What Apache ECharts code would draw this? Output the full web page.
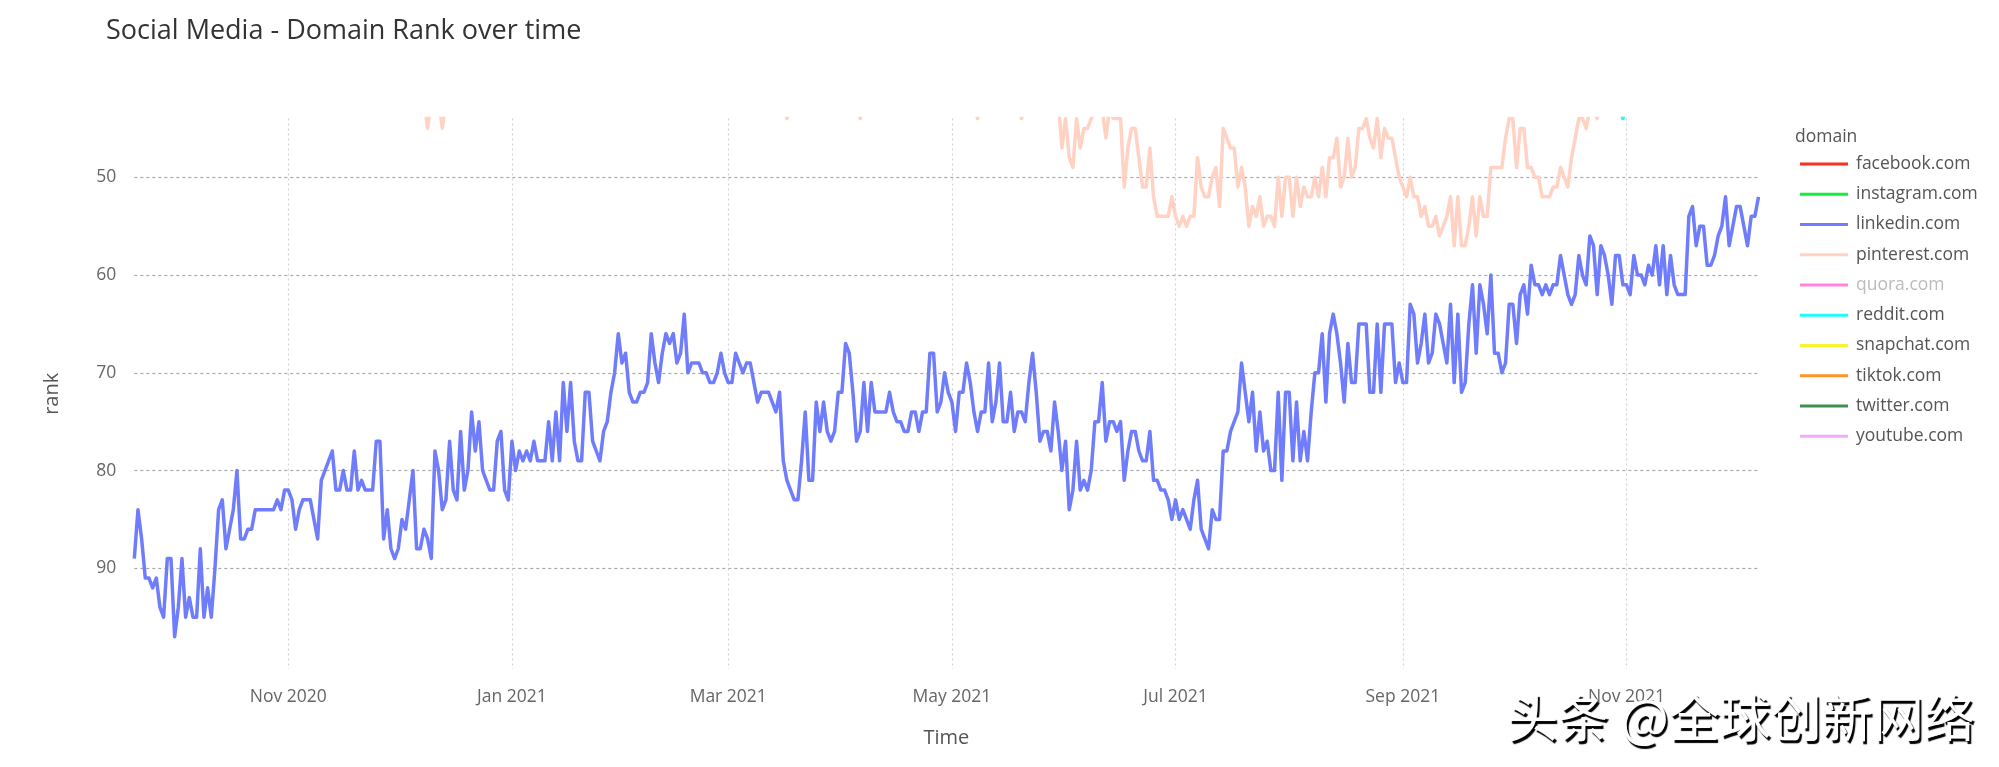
<!DOCTYPE html>
<html>
<head>
<meta charset="utf-8">
<style>
  html, body { margin: 0; padding: 0; background: #fff; }
  #main-chart { width: 1999px; height: 767px; }
</style>
<script src="https://cdn.jsdelivr.net/npm/echarts@6/dist/echarts.min.js"></script>
</head>
<body>
<div id="main-chart"></div>
<script>
const FONT = '"Open Sans", sans-serif'
const START_DATE = [2020, 8, 20]

const xTickDates = [[2020, 10, 1], [2021, 0, 1], [2021, 2, 1], [2021, 4, 1], [2021, 6, 1], [2021, 8, 1], [2021, 10, 1]]
const xTickLabels = ['Nov 2020', 'Jan 2021', 'Mar 2021', 'May 2021', 'Jul 2021', 'Sep 2021', 'Nov 2021']
const yTicks = [50, 60, 70, 80, 90]

const domains = ['facebook.com', 'instagram.com', 'linkedin.com', 'pinterest.com', 'quora.com',
  'reddit.com', 'snapchat.com', 'tiktok.com', 'twitter.com', 'youtube.com']
const domainColors = ['#ff2d1e', '#12f03e', '#6f7dfc', '#ffd2c4', '#ff85e2',
  '#1ffcff', '#f7f52f', '#ff9326', '#3f9150', '#f2aaff']

// daily rank, one row per 20 days
const linkedin = [
  89, 84, 87, 91, 91, 92, 91, 94, 95, 89, 89, 97, 94, 89, 95, 93, 95, 95, 88, 95,
  92, 95, 90, 84, 83, 88, 86, 84, 80, 87, 87, 86, 86, 84, 84, 84, 84, 84, 84, 83,
  84, 82, 82, 83, 86, 84, 83, 83, 83, 85, 87, 81, 80, 79, 78, 82, 82, 80, 82, 82,
  78, 82, 81, 82, 82, 82, 77, 77, 87, 84, 88, 89, 88, 85, 86, 83, 80, 88, 88, 86,
  87, 89, 78, 80, 84, 83, 77, 82, 83, 76, 82, 80, 74, 78, 75, 80, 81, 82, 82, 77,
  76, 82, 83, 77, 80, 78, 79, 78, 79, 77, 79, 79, 79, 75, 79, 74, 79, 71, 76, 71,
  77, 79, 79, 72, 72, 77, 78, 79, 76, 75, 72, 70, 66, 69, 68, 72, 73, 73, 72, 72,
  71, 66, 69, 71, 68, 66, 67, 66, 69, 68, 64, 70, 69, 69, 69, 70, 70, 71, 71, 70,
  68, 70, 71, 71, 68, 69, 70, 69, 69, 71, 73, 72, 72, 72, 73, 74, 72, 79, 81, 82,
  83, 83, 79, 74, 81, 81, 73, 76, 73, 76, 77, 76, 72, 72, 67, 68, 72, 77, 76, 71,
  76, 71, 74, 74, 74, 74, 72, 74, 75, 75, 76, 76, 74, 74, 76, 74, 74, 68, 68, 74,
  73, 70, 72, 73, 76, 72, 72, 69, 71, 74, 76, 74, 74, 69, 75, 73, 69, 75, 75, 72,
  76, 74, 74, 75, 71, 68, 72, 77, 76, 76, 78, 73, 76, 80, 77, 84, 82, 77, 82, 81,
  82, 80, 75, 75, 71, 77, 75, 75, 76, 75, 81, 78, 76, 76, 78, 79, 79, 76, 81, 81,
  82, 82, 83, 85, 83, 85, 84, 85, 86, 83, 81, 86, 87, 88, 84, 85, 85, 78, 78, 76,
  75, 74, 69, 72, 75, 72, 78, 74, 78, 77, 80, 80, 72, 81, 72, 72, 79, 73, 79, 76,
  79, 74, 70, 70, 66, 73, 66, 64, 66, 69, 73, 67, 71, 71, 65, 65, 65, 72, 72, 65,
  72, 65, 65, 65, 71, 69, 71, 71, 63, 64, 69, 67, 64, 69, 68, 64, 65, 67, 69, 63,
  71, 64, 72, 71, 65, 61, 68, 61, 63, 66, 60, 68, 68, 70, 69, 63, 63, 67, 62, 61,
  64, 59, 61, 61, 62, 61, 62, 61, 61, 58, 60, 62, 63, 62, 58, 60, 61, 56, 57, 62,
  57, 58, 60, 63, 58, 58, 61, 61, 62, 58, 60, 60, 61, 59, 60, 57, 61, 57, 62, 58,
  61, 62, 62, 62, 54, 53, 57, 55, 55, 59, 59, 58, 56, 55, 52, 57, 55, 53, 53, 55,
  57, 54, 54, 52
]

// 42 stands for "above the top of the plot", the real value can't be read there
const pinterest = [
  42, 42, 42, 42, 42, 42, 42, 42, 42, 42, 42, 42, 42, 42, 42, 42, 42, 42, 42, 42,
  42, 42, 42, 42, 42, 42, 42, 42, 42, 42, 42, 42, 42, 42, 42, 42, 42, 42, 42, 42,
  42, 42, 42, 42, 42, 42, 42, 42, 42, 42, 42, 42, 42, 42, 42, 42, 42, 42, 42, 42,
  42, 42, 42, 42, 42, 42, 42, 42, 42, 42, 42, 42, 42, 42, 42, 42, 42, 42, 42, 42,
  45, 42, 42, 42, 45, 42, 42, 42, 42, 42, 42, 42, 42, 42, 42, 42, 42, 42, 42, 42,
  42, 42, 42, 42, 42, 42, 42, 42, 42, 42, 42, 42, 42, 42, 42, 42, 42, 42, 42, 42,
  42, 42, 42, 42, 42, 42, 42, 42, 42, 42, 42, 42, 42, 42, 42, 42, 42, 42, 42, 42,
  42, 42, 42, 42, 42, 42, 42, 42, 42, 42, 42, 42, 42, 42, 42, 42, 42, 42, 42, 42,
  42, 42, 42, 42, 42, 42, 42, 42, 42, 42, 42, 42, 42, 42, 42, 42, 42, 42, 44, 42,
  42, 42, 42, 42, 42, 42, 42, 42, 42, 42, 42, 42, 42, 42, 42, 42, 42, 42, 44, 42,
  42, 42, 42, 42, 42, 42, 42, 42, 42, 42, 42, 42, 42, 42, 42, 42, 42, 42, 42, 42,
  42, 42, 42, 42, 42, 42, 42, 42, 42, 42, 44, 42, 42, 42, 42, 42, 42, 42, 42, 42,
  42, 42, 44, 42, 42, 42, 42, 42, 42, 42, 42, 42, 42, 47, 44, 48, 49, 44, 47, 45,
  45, 44, 43, 43, 43, 46, 43, 44, 44, 44, 51, 47, 45, 45, 48, 51, 51, 47, 52, 54,
  54, 54, 54, 52, 54, 55, 54, 55, 54, 54, 48, 51, 52, 52, 50, 49, 53, 45, 46, 47,
  47, 51, 49, 51, 55, 53, 54, 52, 55, 54, 54, 55, 50, 54, 50, 50, 54, 50, 53, 51,
  52, 52, 50, 52, 49, 52, 48, 48, 46, 51, 50, 46, 50, 49, 45, 45, 44, 46, 47, 44,
  48, 45, 46, 46, 48, 50, 51, 52, 50, 52, 52, 54, 53, 55, 55, 54, 56, 55, 54, 52,
  57, 52, 57, 57, 55, 52, 56, 52, 54, 54, 49, 49, 49, 49, 46, 44, 44, 49, 45, 45,
  49, 49, 50, 50, 52, 52, 52, 51, 51, 49, 50, 51, 48, 46, 44, 44, 45, 43, 43, 44,
  42, 42, 42, 42, 42, 42, 44, 42, 42, 42, 42, 42, 42, 42, 42, 42, 42, 42, 42, 42
]

// reddit only touches the top edge once, the rest sits above the plot
const reddit = [[405, 42], [406, 44], [407, 42]]

const dayTime = i => new Date(START_DATE[0], START_DATE[1], START_DATE[2] + i).getTime()
const tickTime = d => new Date(d[0], d[1], d[2]).getTime()
const xTickTimes = xTickDates.map(tickTime)

const dataByDomain = {
  'linkedin.com': linkedin.map((v, i) => [dayTime(i), v]),
  'pinterest.com': pinterest.map((v, i) => [dayTime(i), v]),
  'reddit.com': reddit.map(v => [dayTime(v[0]), v[1]])
}

const chart = echarts.init(document.getElementById('main-chart'))
chart.setOption({
  animation: false,
  backgroundColor: '#fff',
  textStyle: { fontFamily: FONT },
  title: [
    {
      text: 'Social Media - Domain Rank over time',
      left: 101, top: 13,
      textStyle: { fontFamily: FONT, fontSize: 27, fontWeight: 400, color: '#333' }
    },
    {
      text: 'domain',
      left: 1790, top: 123,
      textStyle: { fontFamily: FONT, fontSize: 17.5, fontWeight: 400, color: '#555' }
    },
    {
      text: '头条 @全球创新网络',
      left: 1502, top: 687,
      z: 20,
      textStyle: {
        fontFamily: '"Noto Sans CJK SC"', fontSize: 51, fontWeight: 400, color: '#fff',
        textShadowColor: '#000', textShadowBlur: 1, textShadowOffsetX: 2, textShadowOffsetY: 3
      }
    }
  ],
  legend: {
    orient: 'vertical',
    left: 1800, top: 155,
    icon: 'rect',
    itemWidth: 48, itemHeight: 3, itemGap: 12.25, padding: 0,
    selectedMode: false,
    textStyle: { fontFamily: FONT, fontSize: 17.5, color: '#555', lineHeight: 18, padding: [0, 0, 0, 3] },
    data: domains.map(name => name === 'quora.com'
      ? { name: name, textStyle: { color: '#bbb' } }
      : { name: name })
  },
  grid: { left: 134.3, right: 240.5, top: 118.6, bottom: 98 },
  xAxis: {
    type: 'value',
    min: dayTime(0),
    max: dayTime(linkedin.length - 1),
    name: 'Time',
    nameLocation: 'middle',
    nameGap: 59,
    nameTextStyle: { fontFamily: FONT, fontSize: 20, color: '#555' },
    axisLine: { show: false },
    axisTick: { show: false, customValues: xTickTimes },
    axisLabel: {
      customValues: xTickTimes,
      margin: 19,
      fontFamily: FONT, fontSize: 17.5, color: '#666',
      formatter: v => xTickLabels[xTickTimes.indexOf(v)]
    },
    splitLine: { show: true, lineStyle: { color: '#d2d2d2', width: 1.2, type: [2, 3] } }
  },
  yAxis: {
    type: 'value',
    inverse: true,
    min: 44,
    max: 100.3,
    name: 'rank',
    nameLocation: 'middle',
    nameGap: 72,
    nameTextStyle: { fontFamily: FONT, fontSize: 20, color: '#555' },
    axisLine: { show: false },
    axisTick: { show: false, customValues: yTicks },
    axisLabel: { customValues: yTicks, margin: 18, fontFamily: FONT, fontSize: 17.5, color: '#666' },
    splitLine: { show: true, lineStyle: { color: '#aaa', width: 1.2, type: [3, 3] } }
  },
  series: domains.map((name, i) => ({
    name: name,
    type: 'line',
    data: dataByDomain[name] || [],
    showSymbol: false,
    symbol: 'none',
    clip: true,
    z: name === 'linkedin.com' ? 4 : 3,
    itemStyle: { color: domainColors[i] },
    lineStyle: { color: domainColors[i], width: 3.5, join: 'round' }
  }))
})
</script>
</body>
</html>
